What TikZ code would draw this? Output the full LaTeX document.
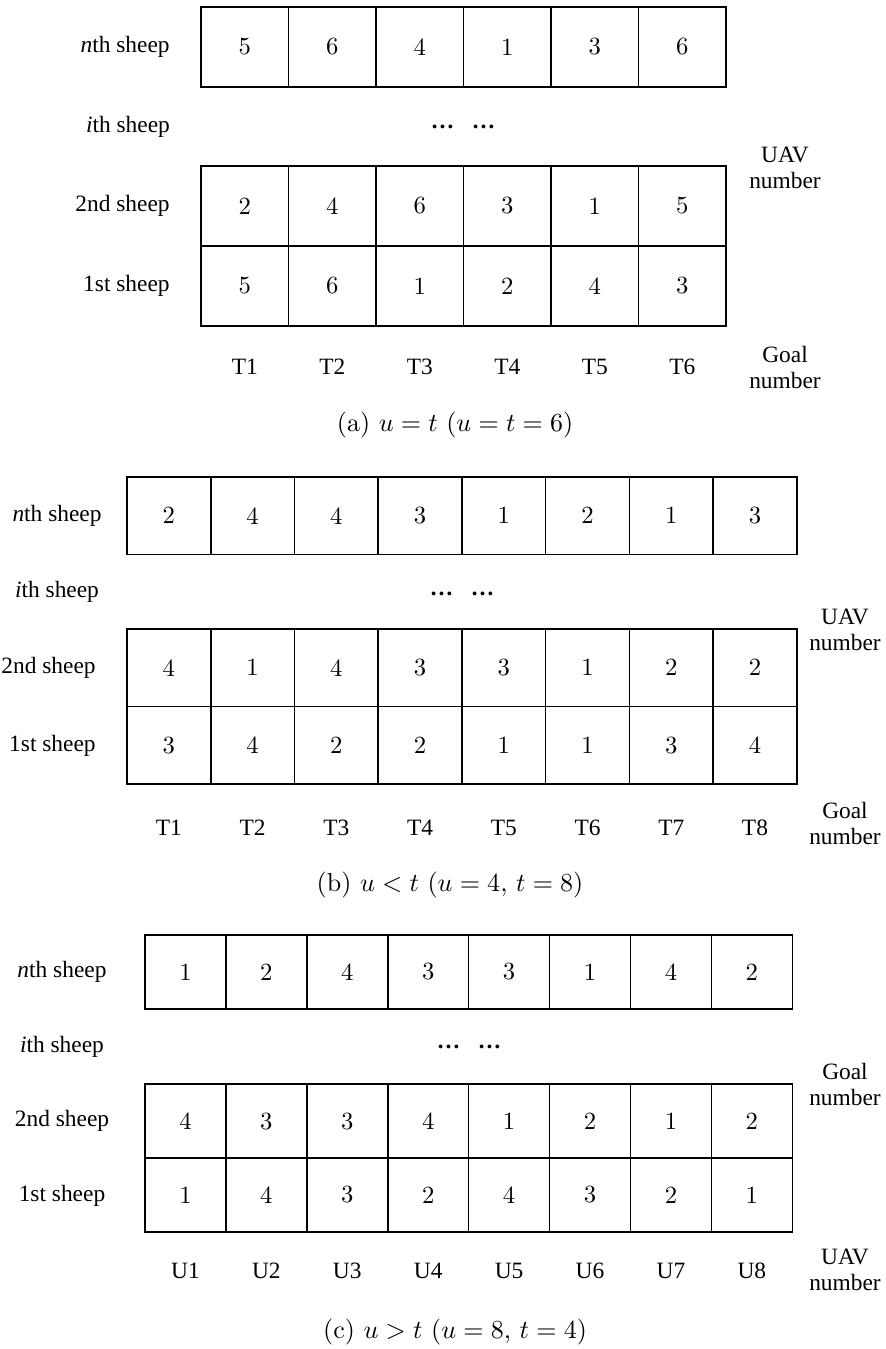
\documentclass[tikz,border=0pt]{standalone}
\usepackage{fontspec}
\newfontfamily\labelfont{Liberation Serif}
\usetikzlibrary{positioning}

\begin{document}
\begin{tikzpicture}[
    cell/.style={
        draw,
        line width=0.6pt,
        inner sep=0pt,
        outer sep=0pt,
        font=\fontsize{9.5}{11}\selectfont
    },
    cella/.style={cell, minimum width=1.183cm, minimum height=1.08cm},
    cellb/.style={cell, minimum width=1.132cm, minimum height=1.048cm},
    cellc/.style={cell, minimum width=1.094cm, minimum height=1.0cm},
    lbl/.style={font=\labelfont\fontsize{9}{10}\selectfont, text height=1.5ex, text depth=0.45ex},
    collbl/.style={font=\labelfont\fontsize{9}{10}\selectfont, text height=1.4ex, text depth=0pt},
    axislbl/.style={font=\labelfont\fontsize{9}{10}\selectfont, align=center},
    caption/.style={font=\fontsize{10}{12}\selectfont}
]
\useasboundingbox (0,0) rectangle (11.965,-18.238);

% (a) u = t
\node[cella] (an1) at (3.309,-0.635) {5};
\node[cella, right=0pt of an1] (an2) {6};
\node[cella, right=0pt of an2] (an3) {4};
\node[cella, right=0pt of an3] (an4) {1};
\node[cella, right=0pt of an4] (an5) {3};
\node[cella, right=0pt of an5] (an6) {6};

\node[cella] (atwo1) at (3.309,-2.785) {2};
\node[cella, right=0pt of atwo1] (atwo2) {4};
\node[cella, right=0pt of atwo2] (atwo3) {6};
\node[cella, right=0pt of atwo3] (atwo4) {3};
\node[cella, right=0pt of atwo4] (atwo5) {1};
\node[cella, right=0pt of atwo5] (atwo6) {5};

\node[cella, below=0pt of atwo1] (aone1) {5};
\node[cella, right=0pt of aone1] (aone2) {6};
\node[cella, right=0pt of aone2] (aone3) {1};
\node[cella, right=0pt of aone3] (aone4) {2};
\node[cella, right=0pt of aone4] (aone5) {4};
\node[cella, right=0pt of aone5] (aone6) {3};

\node[lbl, left=0.3cm of an1] (anlbl) {\textit{n}th sheep};
\node[lbl] (ailbl) at (1.73,-1.717) {\textit{i}th sheep};
\node[lbl, left=0.3cm of atwo1] (atwolbl) {2nd sheep};
\node[lbl, left=0.3cm of aone1] (aonelbl) {1st sheep};
\node[lbl] (adots) at (6.26,-1.663) {\textbf{\dots\hspace{0.75em}\dots}};
\node[axislbl] (auav) at (10.613,-2.271) {UAV\\number};

\node[collbl, below=0.32cm of aone1] (at1) {T1};
\node[collbl, below=0.32cm of aone2] (at2) {T2};
\node[collbl, below=0.32cm of aone3] (at3) {T3};
\node[collbl, below=0.32cm of aone4] (at4) {T4};
\node[collbl, below=0.32cm of aone5] (at5) {T5};
\node[collbl, below=0.32cm of aone6] (at6) {T6};
\node[axislbl] (agoal) at (10.613,-4.962) {Goal\\number};

\node[caption] (acap) at (6.152,-5.746) {(a) $u=t$ ($u=t=6$)};

% (b) u < t
\node[cellb] (bn1) at (2.283,-6.973) {2};
\node[cellb, right=0pt of bn1] (bn2) {4};
\node[cellb, right=0pt of bn2] (bn3) {4};
\node[cellb, right=0pt of bn3] (bn4) {3};
\node[cellb, right=0pt of bn4] (bn5) {1};
\node[cellb, right=0pt of bn5] (bn6) {2};
\node[cellb, right=0pt of bn6] (bn7) {1};
\node[cellb, right=0pt of bn7] (bn8) {3};

\node[cellb] (btwo1) at (2.283,-9.028) {4};
\node[cellb, right=0pt of btwo1] (btwo2) {1};
\node[cellb, right=0pt of btwo2] (btwo3) {4};
\node[cellb, right=0pt of btwo3] (btwo4) {3};
\node[cellb, right=0pt of btwo4] (btwo5) {3};
\node[cellb, right=0pt of btwo5] (btwo6) {1};
\node[cellb, right=0pt of btwo6] (btwo7) {2};
\node[cellb, right=0pt of btwo7] (btwo8) {2};

\node[cellb, below=0pt of btwo1] (bone1) {3};
\node[cellb, right=0pt of bone1] (bone2) {4};
\node[cellb, right=0pt of bone2] (bone3) {2};
\node[cellb, right=0pt of bone3] (bone4) {2};
\node[cellb, right=0pt of bone4] (bone5) {1};
\node[cellb, right=0pt of bone5] (bone6) {1};
\node[cellb, right=0pt of bone6] (bone7) {3};
\node[cellb, right=0pt of bone7] (bone8) {4};

\node[lbl, left=0.22cm of bn1] (bnlbl) {\textit{n}th sheep};
\node[lbl] (bilbl) at (0.771,-8.004) {\textit{i}th sheep};
\node[lbl, left=0.3cm of btwo1] (btwolbl) {2nd sheep};
\node[lbl, left=0.3cm of bone1] (bonelbl) {1st sheep};
\node[lbl] (bdots) at (6.246,-7.977) {\textbf{\dots\hspace{0.75em}\dots}};
\node[axislbl] (buav) at (11.424,-8.518) {UAV\\number};

\node[collbl, below=0.36cm of bone1] (bt1) {T1};
\node[collbl, below=0.36cm of bone2] (bt2) {T2};
\node[collbl, below=0.36cm of bone3] (bt3) {T3};
\node[collbl, below=0.36cm of bone4] (bt4) {T4};
\node[collbl, below=0.36cm of bone5] (bt5) {T5};
\node[collbl, below=0.36cm of bone6] (bt6) {T6};
\node[collbl, below=0.36cm of bone7] (bt7) {T7};
\node[collbl, below=0.36cm of bone8] (bt8) {T8};
\node[axislbl] (bgoal) at (11.424,-11.127) {Goal\\number};

\node[caption] (bcap) at (6.084,-11.965) {(b) $u<t$ ($u=4$, $t=8$)};

% (c) u > t
\node[cellc] (cn1) at (2.507,-13.141) {1};
\node[cellc, right=0pt of cn1] (cn2) {2};
\node[cellc, right=0pt of cn2] (cn3) {4};
\node[cellc, right=0pt of cn3] (cn4) {3};
\node[cellc, right=0pt of cn4] (cn5) {3};
\node[cellc, right=0pt of cn5] (cn6) {1};
\node[cellc, right=0pt of cn6] (cn7) {4};
\node[cellc, right=0pt of cn7] (cn8) {2};

\node[cellc] (ctwo1) at (2.507,-15.156) {4};
\node[cellc, right=0pt of ctwo1] (ctwo2) {3};
\node[cellc, right=0pt of ctwo2] (ctwo3) {3};
\node[cellc, right=0pt of ctwo3] (ctwo4) {4};
\node[cellc, right=0pt of ctwo4] (ctwo5) {1};
\node[cellc, right=0pt of ctwo5] (ctwo6) {2};
\node[cellc, right=0pt of ctwo6] (ctwo7) {1};
\node[cellc, right=0pt of ctwo7] (ctwo8) {2};

\node[cellc, below=0pt of ctwo1] (cone1) {1};
\node[cellc, right=0pt of cone1] (cone2) {4};
\node[cellc, right=0pt of cone2] (cone3) {3};
\node[cellc, right=0pt of cone3] (cone4) {2};
\node[cellc, right=0pt of cone4] (cone5) {4};
\node[cellc, right=0pt of cone5] (cone6) {3};
\node[cellc, right=0pt of cone6] (cone7) {2};
\node[cellc, right=0pt of cone7] (cone8) {1};

\node[lbl] (cnlbl) at (0.838,-13.141) {\textit{n}th sheep};
\node[lbl] (cilbl) at (0.838,-14.155) {\textit{i}th sheep};
\node[lbl] (ctwolbl) at (0.838,-15.156) {2nd sheep};
\node[lbl] (conelbl) at (0.838,-16.170) {1st sheep};
\node[lbl] (cdots) at (6.341,-14.101) {\textbf{\dots\hspace{0.75em}\dots}};
\node[axislbl] (cgoal) at (11.424,-14.656) {Goal\\number};

\node[collbl, below=0.29cm of cone1] (cu1) {U1};
\node[collbl, below=0.29cm of cone2] (cu2) {U2};
\node[collbl, below=0.29cm of cone3] (cu3) {U3};
\node[collbl, below=0.29cm of cone4] (cu4) {U4};
\node[collbl, below=0.29cm of cone5] (cu5) {U5};
\node[collbl, below=0.29cm of cone6] (cu6) {U6};
\node[collbl, below=0.29cm of cone7] (cu7) {U7};
\node[collbl, below=0.29cm of cone8] (cu8) {U8};
\node[axislbl] (cuav) at (11.424,-17.170) {UAV\\number};

\node[caption] (ccap) at (6.152,-18.009) {(c) $u>t$ ($u=8$, $t=4$)};

\end{tikzpicture}
\end{document}
